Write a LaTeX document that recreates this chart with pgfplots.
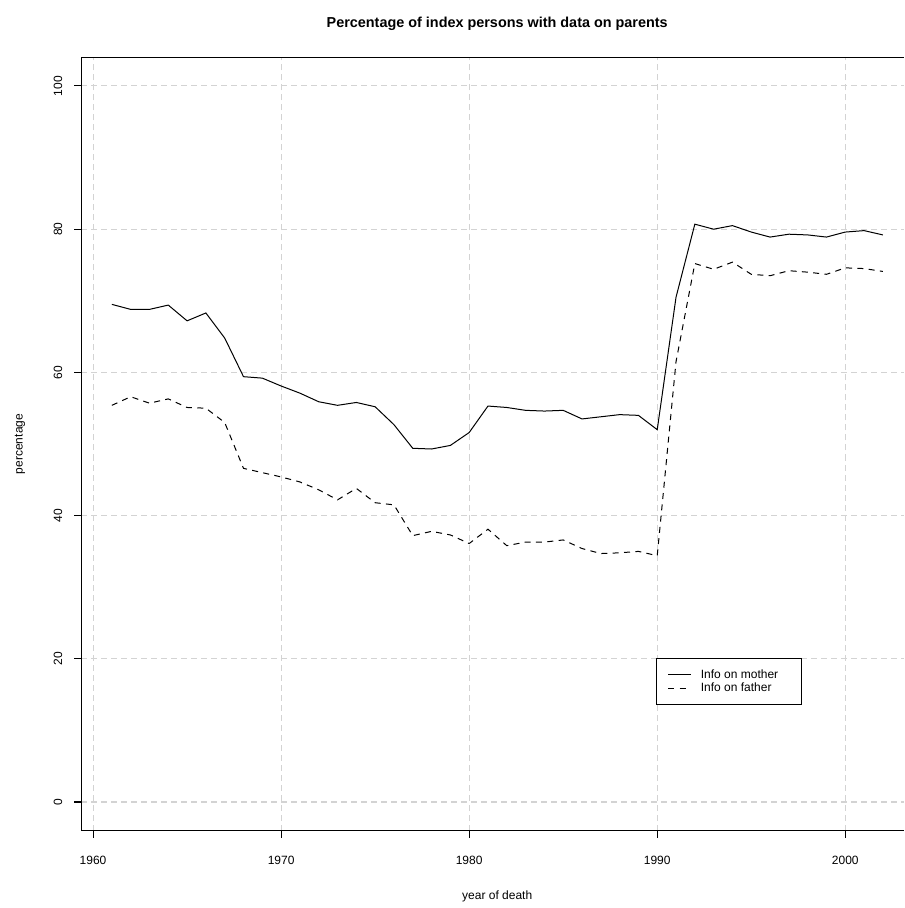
\documentclass[border=0pt]{standalone}
\usepackage{fontspec}
\setmainfont{Liberation Sans}
\usepackage{pgfplots}
\pgfplotsset{compat=1.18}
\usetikzlibrary{calc}
\definecolor{gridgray}{HTML}{D3D3D3}
\pgfplotstableread{
year mother father
1961 69.5 55.4
1962 68.8 56.6
1963 68.8 55.7
1964 69.4 56.3
1965 67.2 55.1
1966 68.3 55.0
1967 64.8 53.0
1968 59.4 46.6
1969 59.2 46.0
1970 58.1 45.4
1971 57.1 44.7
1972 55.9 43.6
1973 55.4 42.2
1974 55.8 43.8
1975 55.2 41.8
1976 52.7 41.5
1977 49.4 37.2
1978 49.3 37.8
1979 49.8 37.3
1980 51.6 36.1
1981 55.3 38.1
1982 55.1 35.8
1983 54.7 36.3
1984 54.6 36.3
1985 54.7 36.6
1986 53.5 35.4
1987 53.8 34.7
1988 54.1 34.8
1989 54.0 35.0
1990 52.0 34.4
1991 70.5 61.5
1992 80.7 75.2
1993 80.0 74.4
1994 80.5 75.4
1995 79.6 73.7
1996 78.9 73.5
1997 79.3 74.2
1998 79.2 74.0
1999 78.9 73.7
2000 79.6 74.6
2001 79.8 74.5
2002 79.2 74.1
}\datatable
\begin{document}
\begin{tikzpicture}
\begin{axis}[
  name=ax,
  scale only axis,
  width=617.25pt, height=579.75pt,
  xmin=1959.36, xmax=2003.14,
  ymin=-4, ymax=104,
  axis x line*=box, axis y line*=left,
  tick pos=left,
  tick align=outside,
  major tick length=5.25pt,
  axis line style={line width=0.75pt},
  every tick/.style={line width=0.75pt, black},
  xtick={1960,1970,1980,1990,2000},
  ytick={0,20,40,60,80,100},
  /pgf/number format/1000 sep={},
  /pgf/number format/assume math mode=true,
  tick label style={font=\fontsize{9pt}{10pt}\selectfont},
  xticklabel style={anchor=center, yshift=-17pt},
  yticklabel style={rotate=90, anchor=center, yshift=12pt},
  grid=major,
  major grid style={draw=gridgray, line width=0.75pt, dash pattern=on 4.5pt off 3pt},
  every axis title shift=0pt,
  title={\bfseries Percentage of index persons with data on parents},
  title style={font=\fontsize{10.8pt}{12pt}\selectfont, at={(axis description cs:0.5055,1.043)}, anchor=center},
  xlabel={year of death},
  xlabel style={font=\fontsize{9pt}{10pt}\selectfont, at={(axis description cs:0.5055,-0.0846)}, anchor=center},
  ylabel={percentage},
  ylabel style={font=\fontsize{9pt}{10pt}\selectfont, at={(axis description cs:-0.0741,0.5)}, anchor=center, rotate=0},
  legend style={at={(axis cs:1989.95,20.1)}, anchor=north west, draw=black, line width=0.75pt,
    font=\fontsize{9pt}{10pt}\selectfont, inner xsep=8.25pt, inner ysep=7.75pt,
    nodes={inner sep=0.5pt}, column sep=6.5pt, row sep=1.25pt},
  legend cell align=left,
  legend image code/.code={\draw[#1] (0pt,0pt) -- (17pt,0pt);},
]
\addplot[black, line width=0.75pt] table[x=year, y=mother] {\datatable};
\addlegendentry{\makebox[66.5pt][l]{Info on mother}}
\addplot[black, line width=0.75pt, dash pattern=on 4.5pt off 4pt] table[x=year, y=father] {\datatable};
\addlegendentry{\makebox[66.5pt][l]{Info on father}}
\end{axis}
\pgfresetboundingbox
\path ($(ax.south west)+(-60.75pt,-58pt)$) rectangle ($(ax.north east)+(0pt,43pt)$);
\end{tikzpicture}
\end{document}
